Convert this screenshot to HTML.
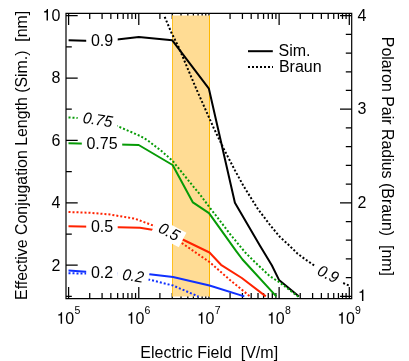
<!DOCTYPE html>
<html><head><meta charset="utf-8"><title>chart</title>
<style>html,body{margin:0;padding:0;background:#fff;}body{width:409px;height:361px;overflow:hidden;position:relative;font-family:"Liberation Sans",sans-serif;}</style>
</head><body>
<svg width="409" height="361" viewBox="0 0 409 361" style="position:absolute;left:0;top:0;will-change:transform">
<rect width="409" height="361" fill="#fff"/>
<path d="M68.60 13.3 v11.7 M68.60 298.7 v-11.7 M89.72 13.3 v5.6 M89.72 298.7 v-5.6 M102.08 13.3 v5.6 M102.08 298.7 v-5.6 M110.85 13.3 v5.6 M110.85 298.7 v-5.6 M117.65 13.3 v5.6 M117.65 298.7 v-5.6 M123.21 13.3 v5.6 M123.21 298.7 v-5.6 M127.90 13.3 v5.6 M127.90 298.7 v-5.6 M131.97 13.3 v5.6 M131.97 298.7 v-5.6 M135.56 13.3 v5.6 M135.56 298.7 v-5.6 M138.78 13.3 v11.7 M138.78 298.7 v-11.7 M159.90 13.3 v5.6 M159.90 298.7 v-5.6 M172.26 13.3 v5.6 M172.26 298.7 v-5.6 M181.02 13.3 v5.6 M181.02 298.7 v-5.6 M187.83 13.3 v5.6 M187.83 298.7 v-5.6 M193.38 13.3 v5.6 M193.38 298.7 v-5.6 M198.08 13.3 v5.6 M198.08 298.7 v-5.6 M202.15 13.3 v5.6 M202.15 298.7 v-5.6 M205.74 13.3 v5.6 M205.74 298.7 v-5.6 M208.95 13.3 v11.7 M208.95 298.7 v-11.7 M230.07 13.3 v5.6 M230.07 298.7 v-5.6 M242.43 13.3 v5.6 M242.43 298.7 v-5.6 M251.20 13.3 v5.6 M251.20 298.7 v-5.6 M258.00 13.3 v5.6 M258.00 298.7 v-5.6 M263.56 13.3 v5.6 M263.56 298.7 v-5.6 M268.25 13.3 v5.6 M268.25 298.7 v-5.6 M272.32 13.3 v5.6 M272.32 298.7 v-5.6 M275.91 13.3 v5.6 M275.91 298.7 v-5.6 M279.12 13.3 v11.7 M279.12 298.7 v-11.7 M300.25 13.3 v5.6 M300.25 298.7 v-5.6 M312.61 13.3 v5.6 M312.61 298.7 v-5.6 M321.37 13.3 v5.6 M321.37 298.7 v-5.6 M328.18 13.3 v5.6 M328.18 298.7 v-5.6 M333.73 13.3 v5.6 M333.73 298.7 v-5.6 M338.43 13.3 v5.6 M338.43 298.7 v-5.6 M342.50 13.3 v5.6 M342.50 298.7 v-5.6 M346.09 13.3 v5.6 M346.09 298.7 v-5.6 M349.30 13.3 v11.7 M349.30 298.7 v-11.7 M66.0 296.40 h5.8 M66.0 265.20 h11.7 M66.0 234.00 h5.8 M66.0 202.80 h11.7 M66.0 171.60 h5.8 M66.0 140.40 h11.7 M66.0 109.20 h5.8 M66.0 78.00 h11.7 M66.0 46.80 h5.8 M66.0 15.60 h11.7 M351.7 296.40 h-11.7 M351.7 277.68 h-5.9 M351.7 258.96 h-5.9 M351.7 240.24 h-5.9 M351.7 221.52 h-5.9 M351.7 202.80 h-11.7 M351.7 184.08 h-5.9 M351.7 165.36 h-5.9 M351.7 146.64 h-5.9 M351.7 127.92 h-5.9 M351.7 109.20 h-11.7 M351.7 90.48 h-5.9 M351.7 71.76 h-5.9 M351.7 53.04 h-5.9 M351.7 34.32 h-5.9 M351.7 15.60 h-11.7" stroke="#000" stroke-width="1.25" fill="none"/>
<rect x="172.1" y="15.5" width="37.9" height="281" fill="#ffdc94"/>
<path d="M172.5 15.5 V296.5" stroke="#ffb800" stroke-width="0.8" fill="none"/>
<path d="M209.5 15.5 V296.5" stroke="#ffb800" stroke-width="1" fill="none"/>
<path d="M66.0 12.8 V299.2 M351.7 12.8 V299.2 M65.5 13.3 H352.2 M65.5 298.7 H352.2" stroke="#000" stroke-width="1.2" fill="none"/>
<path d="M68.6 40.3 L102.1 41.3 L138.8 37.0 L172.3 40.3 L208.9 88.7 L234.9 202.8 L259.7 245.2 L271.8 265.2 L279.0 279.9 L299.0 296.4" stroke="#000" stroke-width="2" fill="none" stroke-linejoin="round"/>
<path d="M164.7 16.9 L171.2 32.2 L178.5 46.8 L196.2 88.7 L213.7 128.0 L223.7 148.7 L234.4 169.4 L243.7 186.3 L257.7 208.7 L270.0 225.0 L280.0 237.0 L289.4 245.6 L297.5 253.6 L305.0 259.2 L315.0 266.0 L328.0 274.0 L341.0 282.0 L350.0 286.0" stroke="#000" stroke-width="2" fill="none" stroke-linejoin="round" stroke-dasharray="2 2"/>
<path d="M68.5 143.2 L138.7 145.0 L172.6 165.0 L192.9 202.4 L209.0 213.2 L236.2 251.2 L242.5 259.5 L276.3 296.4" stroke="#069b06" stroke-width="2" fill="none" stroke-linejoin="round"/>
<path d="M68.5 117.5 L78.0 118.0 L97.0 120.5 L116.7 125.8 L128.4 130.8 L140.2 136.0 L147.7 140.4 L154.6 145.7 L161.8 151.3 L168.7 157.4 L172.6 160.9 L192.5 185.5 L200.0 194.5 L209.5 207.3 L219.4 220.0 L230.0 234.0 L245.0 252.2 L255.0 262.2 L269.6 276.0 L279.5 282.3 L299.0 297.2" stroke="#069b06" stroke-width="2" fill="none" stroke-linejoin="round" stroke-dasharray="2 2"/>
<path d="M68.5 226.3 L118.0 227.3 L140.0 227.7 L153.7 230.0 L172.5 235.0 L183.7 240.0 L209.5 252.5 L221.0 264.8 L241.8 278.0 L265.8 296.4" stroke="#ff2200" stroke-width="2" fill="none" stroke-linejoin="round"/>
<path d="M68.5 212.0 L90.0 212.8 L110.0 214.5 L135.0 218.7 L155.0 226.2 L168.0 233.0 L181.0 242.5 L209.5 262.0 L230.0 280.0 L250.0 296.4" stroke="#ff2200" stroke-width="2" fill="none" stroke-linejoin="round" stroke-dasharray="2 2"/>
<path d="M68.5 270.6 L86.0 271.8 L118.0 273.4 L149.5 274.2 L173.0 277.0 L209.5 285.5 L244.3 296.4" stroke="#1030ff" stroke-width="2" fill="none" stroke-linejoin="round"/>
<path d="M68.5 273.2 L86.0 273.6 L130.0 276.5 L149.5 279.7 L173.0 285.5 L195.0 295.0 L198.5 296.6" stroke="#1030ff" stroke-width="2" fill="none" stroke-linejoin="round" stroke-dasharray="2 2"/>
<g transform="translate(102 40.2) rotate(0)"><rect x="-15.8" y="-7.85" width="31.5" height="15.7" fill="#fff"/><text x="0" y="5.9" text-anchor="middle" font-size="16" font-family="Liberation Sans, sans-serif">0.9</text></g>
<g transform="translate(102 143.2) rotate(0)"><rect x="-20.2" y="-7.85" width="40.4" height="15.7" fill="#fff"/><text x="0" y="5.9" text-anchor="middle" font-size="16" font-family="Liberation Sans, sans-serif">0.75</text></g>
<g transform="translate(102 226.5) rotate(0)"><rect x="-15.8" y="-7.85" width="31.5" height="15.7" fill="#fff"/><text x="0" y="5.9" text-anchor="middle" font-size="16" font-family="Liberation Sans, sans-serif">0.5</text></g>
<g transform="translate(102 272.4) rotate(0)"><rect x="-15.8" y="-7.85" width="31.5" height="15.7" fill="#fff"/><text x="0" y="5.9" text-anchor="middle" font-size="16" font-family="Liberation Sans, sans-serif">0.2</text></g>
<g transform="translate(97.7 120.3) rotate(9)"><rect x="-20.2" y="-7.85" width="40.4" height="15.7" fill="#fff"/><text x="0" y="4.8" text-anchor="middle" font-size="16" font-style="italic" transform="scale(0.96 1)" font-family="Liberation Sans, sans-serif">0.75</text></g>
<g transform="translate(168.7 232.7) rotate(28)"><rect x="-15.8" y="-8.15" width="31.5" height="16.3" fill="#fff"/><text x="0" y="4.4" text-anchor="middle" font-size="16" font-style="italic" transform="scale(0.96 1)" font-family="Liberation Sans, sans-serif">0.5</text></g>
<g transform="translate(133.2 275.5) rotate(9)"><rect x="-15.8" y="-7.85" width="31.5" height="15.7" fill="#fff"/><text x="0" y="5.7" text-anchor="middle" font-size="16" font-style="italic" transform="scale(0.96 1)" font-family="Liberation Sans, sans-serif">0.2</text></g>
<g transform="translate(328.3 274) rotate(26)"><rect x="-15.8" y="-7.85" width="31.5" height="15.7" fill="#fff"/><text x="0" y="5.4" text-anchor="middle" font-size="16" font-style="italic" transform="scale(0.96 1)" font-family="Liberation Sans, sans-serif">0.9</text></g>
<path d="M248 51.2 H272.8" stroke="#000" stroke-width="2"/>
<path d="M248 67 H273" stroke="#000" stroke-width="2" stroke-dasharray="2 2"/>
<text x="278.5" y="55.5" font-size="16" font-family="Liberation Sans, sans-serif">Sim.</text>
<text x="278.9" y="71.7" font-size="16" font-family="Liberation Sans, sans-serif">Braun</text>
<text x="60.3" y="270.6" text-anchor="end" font-size="16" font-family="Liberation Sans, sans-serif">2</text>
<text x="60.3" y="208.2" text-anchor="end" font-size="16" font-family="Liberation Sans, sans-serif">4</text>
<text x="60.3" y="145.8" text-anchor="end" font-size="16" font-family="Liberation Sans, sans-serif">6</text>
<text x="60.3" y="83.4" text-anchor="end" font-size="16" font-family="Liberation Sans, sans-serif">8</text>
<path transform="translate(42.50 20.60)" d="M5.5 0V-11.5H4.45C4.1-10 3.1-9.35 1.6-9.25V-8.15H4.05V0Z" fill="#000"/>
<text x="51.4" y="21.0" font-size="16" font-family="Liberation Sans, sans-serif">0</text>
<text x="357.6" y="208.0" font-size="16" font-family="Liberation Sans, sans-serif">2</text>
<text x="357.6" y="114.4" font-size="16" font-family="Liberation Sans, sans-serif">3</text>
<text x="357.6" y="20.8" font-size="16" font-family="Liberation Sans, sans-serif">4</text>
<path transform="translate(357.90 300.90)" d="M5.5 0V-11.5H4.45C4.1-10 3.1-9.35 1.6-9.25V-8.15H4.05V0Z" fill="#000"/>
<path transform="translate(56.60 323.70)" d="M5.5 0V-11.5H4.45C4.1-10 3.1-9.35 1.6-9.25V-8.15H4.05V0Z" fill="#000"/>
<text x="65.2" y="323.9" font-size="16" font-family="Liberation Sans, sans-serif">0<tspan dy="-9.9" dx="0.3" font-size="10.5">5</tspan></text>
<path transform="translate(126.78 323.70)" d="M5.5 0V-11.5H4.45C4.1-10 3.1-9.35 1.6-9.25V-8.15H4.05V0Z" fill="#000"/>
<text x="135.4" y="323.9" font-size="16" font-family="Liberation Sans, sans-serif">0<tspan dy="-9.9" dx="0.3" font-size="10.5">6</tspan></text>
<path transform="translate(196.95 323.70)" d="M5.5 0V-11.5H4.45C4.1-10 3.1-9.35 1.6-9.25V-8.15H4.05V0Z" fill="#000"/>
<text x="205.6" y="323.9" font-size="16" font-family="Liberation Sans, sans-serif">0<tspan dy="-9.9" dx="0.3" font-size="10.5">7</tspan></text>
<path transform="translate(267.12 323.70)" d="M5.5 0V-11.5H4.45C4.1-10 3.1-9.35 1.6-9.25V-8.15H4.05V0Z" fill="#000"/>
<text x="275.7" y="323.9" font-size="16" font-family="Liberation Sans, sans-serif">0<tspan dy="-9.9" dx="0.3" font-size="10.5">8</tspan></text>
<path transform="translate(337.30 323.70)" d="M5.5 0V-11.5H4.45C4.1-10 3.1-9.35 1.6-9.25V-8.15H4.05V0Z" fill="#000"/>
<text x="345.9" y="323.9" font-size="16" font-family="Liberation Sans, sans-serif">0<tspan dy="-9.9" dx="0.3" font-size="10.5">9</tspan></text>
<text x="209.2" y="357.6" text-anchor="middle" font-size="16" font-family="Liberation Sans, sans-serif" xml:space="preserve">Electric Field  [V/m]</text>
<text transform="translate(27 155.4) rotate(-90)" text-anchor="middle" font-size="15.88" font-family="Liberation Sans, sans-serif" xml:space="preserve">Effective Conjugation Length (Sim.)  [nm]</text>
<text transform="translate(382 156.4) rotate(90)" text-anchor="middle" font-size="15.94" font-family="Liberation Sans, sans-serif" xml:space="preserve">Polaron Pair Radius (Braun)  [nm]</text>
</svg>
</body></html>
